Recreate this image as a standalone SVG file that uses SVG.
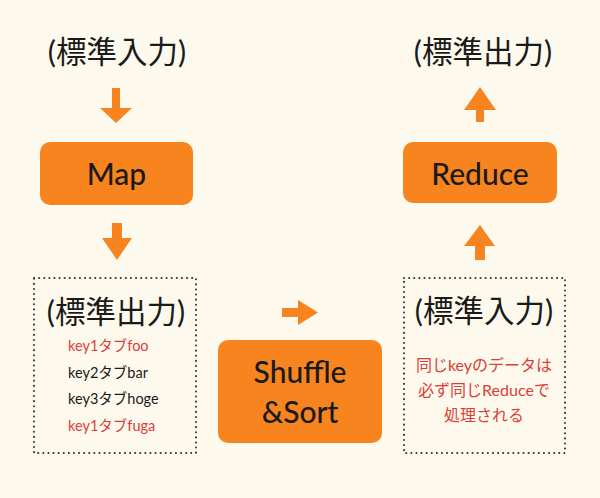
<svg xmlns="http://www.w3.org/2000/svg" width="600" height="498" viewBox="0 0 600 498">
<style>
.t{font-family:"Lato","Noto Sans CJK JP",sans-serif;fill:#1a1a1a;text-anchor:middle}
.big{font-size:30.5px}
.box{font-size:30px;font-weight:500}
.sm{font-size:14.5px;text-anchor:start}
.rs{font-size:16px}
.red{fill:#d9403a}
.node{fill:#f7841f}
.dot{fill:none;stroke:#333;stroke-width:2;stroke-dasharray:0.1 5;stroke-linecap:round}
.arr{fill:#f7841f}
</style>
<rect width="600" height="498" fill="#fdf9ec"/>
<g id="connectors">
<polygon class="arr" points="112,88 120,88 120,108 132,108 116,123 100,108 112,108"/>
<polygon class="arr" points="112,223 122,223 122,238 132,238 117,260 102,238 112,238"/>
<polygon class="arr" points="282,308 298,308 298,300 318,312.5 298,325 298,317 282,317"/>
<polygon class="arr" points="475,260 485,260 485,246 495,246 480,225 464,246 475,246"/>
<polygon class="arr" points="476,122 484,122 484,110 496,110 480,87 464,110 476,110"/>
</g>
<g id="stdin-top">
<text class="t big" x="117" y="63">(標準入力)</text>
</g>
<g id="map">
<rect class="node" x="40" y="142" width="153" height="63" rx="10"/>
<text class="t box" x="116.5" y="185">Map</text>
</g>
<g id="map-output">
<rect class="dot" x="34" y="278" width="162" height="175"/>
<text class="t big" x="116" y="323">(標準出力)</text>
<text class="t sm red" x="68" y="351">key1タブfoo</text>
<text class="t sm" x="68" y="378">key2タブbar</text>
<text class="t sm" x="68" y="404">key3タブhoge</text>
<text class="t sm red" x="68" y="431">key1タブfuga</text>
</g>
<g id="shuffle">
<rect class="node" x="218" y="340" width="164" height="103" rx="10"/>
<text class="t box" x="300" y="383">Shuffle</text>
<text class="t box" x="300" y="423">&amp;Sort</text>
</g>
<g id="reduce-input">
<rect class="dot" x="404" y="278" width="161" height="175"/>
<text class="t big" x="484" y="322">(標準入力)</text>
<text class="t rs red" x="484" y="371">同じkeyのデータは</text>
<text class="t rs red" x="484" y="396">必ず同じReduceで</text>
<text class="t rs red" x="484" y="421">処理される</text>
</g>
<g id="reduce">
<rect class="node" x="403" y="142" width="154" height="61" rx="10"/>
<text class="t box" x="480" y="185">Reduce</text>
</g>
<g id="stdout-top">
<text class="t big" x="483" y="63">(標準出力)</text>
</g>
</svg>
